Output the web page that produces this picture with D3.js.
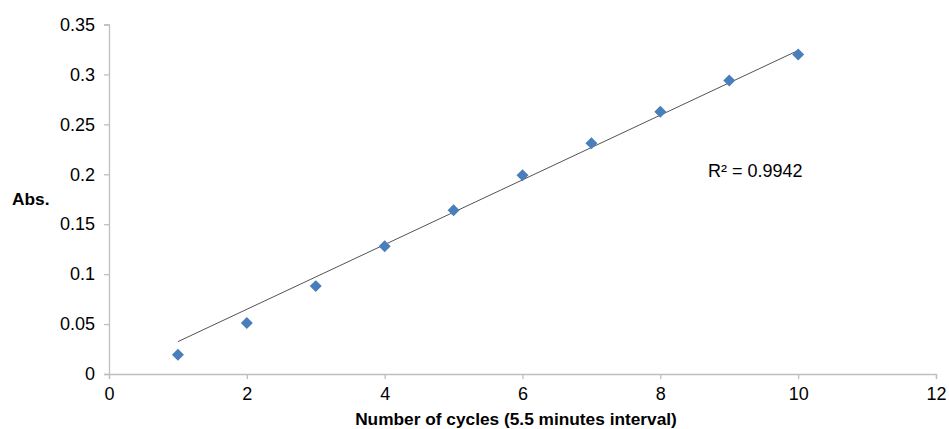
<!DOCTYPE html>
<html>
<head>
<meta charset="utf-8">
<script src="https://cdn.jsdelivr.net/npm/d3@7"></script>
<style>
  html, body { margin: 0; padding: 0; background: #fff; }
  svg { display: block; font-family: "Liberation Sans", Arial, sans-serif; }
</style>
</head>
<body>
<svg id="chart" width="949" height="429"></svg>
<script>
// Absorbance readings per cycle
const cycles = [1, 2, 3, 4, 5, 6, 7, 8, 9, 10];
const absorbance = [0.0193, 0.051, 0.088, 0.128, 0.164, 0.199, 0.231, 0.2626, 0.294, 0.320];
const xTicks = [0, 2, 4, 6, 8, 10, 12];
const yTicks = [0, 0.05, 0.1, 0.15, 0.2, 0.25, 0.3, 0.35];
const r2Label = "R\u00B2 = 0.9942";
const xTitle = "Number of cycles (5.5 minutes interval)";
const yTitle = "Abs.";

const svg = d3.select("#chart");
const plot = { left: 109, right: 936, top: 24.5, bottom: 374 };

const x = d3.scaleLinear().domain([0, 12]).range([plot.left, plot.right]);
const y = d3.scaleLinear().domain([0, 0.35]).range([plot.bottom, plot.top]);

const axisColor = "#bfbfbf";
const fmt = d => String(+d.toFixed(2));

// y axis
const gy = svg.append("g").attr("transform", `translate(${plot.left},0)`)
  .call(d3.axisLeft(y).tickValues(yTicks).tickSize(5).tickPadding(9).tickFormat(fmt));
gy.select(".domain").attr("stroke", axisColor).attr("stroke-width", 1.3);
gy.selectAll(".tick line").attr("stroke", axisColor).attr("stroke-width", 1.3);
gy.selectAll(".tick text").attr("font-size", 18).attr("fill", "#000")
  .attr("font-family", "Liberation Sans, Arial, sans-serif");

// x axis
const gx = svg.append("g").attr("transform", `translate(0,${plot.bottom})`)
  .call(d3.axisBottom(x).tickValues(xTicks).tickSize(5).tickPadding(8).tickFormat(d3.format("d")));
gx.select(".domain").attr("stroke", axisColor).attr("stroke-width", 1.3);
gx.selectAll(".tick line").attr("stroke", axisColor).attr("stroke-width", 1.3);
gx.selectAll(".tick text").attr("font-size", 18).attr("fill", "#000")
  .attr("font-family", "Liberation Sans, Arial, sans-serif");

// Linear trendline through the origin (least squares, zero intercept)
const sxy = d3.sum(cycles, (c, i) => c * absorbance[i]);
const sxx = d3.sum(cycles, c => c * c);
const slope = sxy / sxx;
const xExt = d3.extent(cycles);
svg.append("line")
  .attr("x1", x(xExt[0])).attr("y1", y(slope * xExt[0]))
  .attr("x2", x(xExt[1])).attr("y2", y(slope * xExt[1]))
  .attr("stroke", "#404040").attr("stroke-width", 0.9);

// Diamond markers
const diamond = d3.symbol().type(d3.symbolSquare).size(72);
svg.append("g").selectAll("path")
  .data(cycles.map((c, i) => [c, absorbance[i]]))
  .join("path")
  .attr("d", diamond)
  .attr("transform", d => `translate(${x(d[0])},${y(d[1])}) rotate(45)`)
  .attr("fill", "#4a7ebb");

// Labels
svg.append("text").attr("x", 708).attr("y", 177)
  .attr("font-size", 18).attr("fill", "#000").text(r2Label);

svg.append("text").attr("x", (355 + 677) / 2).attr("y", 425)
  .attr("text-anchor", "middle").attr("font-size", 17.3).attr("font-weight", "bold")
  .attr("fill", "#000").text(xTitle);

svg.append("text").attr("x", 12).attr("y", 205)
  .attr("font-size", 17.3).attr("font-weight", "bold")
  .attr("fill", "#000").text(yTitle);
</script>
</body>
</html>
